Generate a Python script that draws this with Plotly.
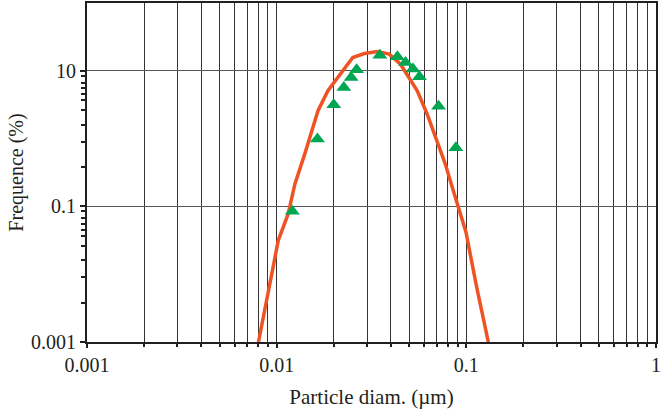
import plotly.graph_objects as go

# Measured points (green triangles)
meas_x = [0.0121, 0.0164, 0.0200, 0.0226, 0.0247, 0.0264, 0.0350, 0.0433, 0.0478, 0.0523, 0.0566, 0.0714, 0.0881]
meas_y = [0.085, 0.99, 3.16, 5.69, 7.97, 10.4, 17.0, 16.1, 13.3, 10.6, 8.17, 2.99, 0.73]

# Model curve (orange line)
curve_x = [0.00802, 0.00906, 0.0102, 0.01151, 0.01248, 0.01407, 0.01556, 0.01652, 0.01863, 0.0210,
           0.0252, 0.0290, 0.0340, 0.0392, 0.0450, 0.0498, 0.0551, 0.0621, 0.0700, 0.0774,
           0.0822, 0.0873, 0.0910, 0.0995, 0.1133, 0.1306]
curve_y = [0.001, 0.00582, 0.0316, 0.078, 0.215, 0.596, 1.47, 2.58, 5.08, 7.97,
           15.7, 18.0, 19.2, 17.6, 12.5, 7.97, 5.08, 2.31, 0.93, 0.425,
           0.241, 0.137, 0.098, 0.042, 0.0065, 0.001]

x_tickvals = [0.001, 0.01, 0.1, 1]
x_ticktext = ["0.001", "0.01", "0.1", "1"]
y_tickvals = [0.001, 0.1, 10]
y_ticktext = ["0.001", "0.1", "10"]

x_minor = [m * d for d in (0.001, 0.01, 0.1) for m in range(2, 10)]
y_minor_mant = [0.85, 0.67, 0.55, 0.45, 0.37, 0.26, 0.16, 0.09, 0.038]
y_minor = [m * top for top in (10, 0.1) for m in y_minor_mant]

FONT = "Liberation Serif"

fig = go.Figure()
fig.add_trace(go.Scatter(x=curve_x, y=curve_y, mode="lines",
                         line=dict(color="#F05323", width=3.5), showlegend=False))
fig.add_trace(go.Scatter(x=meas_x, y=meas_y, mode="markers",
                         marker=dict(symbol="triangle-up", color="#00A651", size=13,
                                     line=dict(width=0)), showlegend=False))

fig.update_layout(
    width=662, height=415,
    margin=dict(l=87, r=1, t=2, b=73),
    paper_bgcolor="white", plot_bgcolor="white",
    font=dict(family=FONT, size=20, color="#231F20"),
    xaxis=dict(
        type="log", range=[-3, 0],
        tickmode="array", tickvals=x_tickvals, ticktext=x_ticktext,
        ticklabeloverflow="allow",
        ticks="outside", ticklen=4, tickcolor="#231F20", tickwidth=1.5,
        showgrid=True, gridcolor="#333333", gridwidth=1,
        minor=dict(tickmode="array", tickvals=x_minor, ticks="outside", ticklen=3,
                   tickcolor="#231F20", showgrid=True, gridcolor="#333333", gridwidth=1),
        showline=True, linecolor="#231F20", linewidth=2, mirror=True,
        zeroline=False,
        title=dict(text="Particle diam. (µm)", font=dict(family=FONT, size=21), standoff=14),
        tickfont=dict(family=FONT, size=20),
    ),
    yaxis=dict(
        type="log", range=[-3, 2],
        tickmode="array", tickvals=y_tickvals, ticktext=y_ticktext,
        ticklabeloverflow="allow",
        ticks="outside", ticklen=5, tickcolor="#231F20", tickwidth=1.5,
        showgrid=True, gridcolor="#555555", gridwidth=1,
        minor=dict(tickmode="array", tickvals=y_minor, ticks="outside", ticklen=4,
                   tickcolor="#231F20", showgrid=False),
        showline=True, linecolor="#231F20", linewidth=2, mirror=True,
        zeroline=False,
        title=dict(text="Frequence (%)", font=dict(family=FONT, size=20), standoff=2),
        tickfont=dict(family=FONT, size=20),
    ),
)

fig.write_html("out.html")
